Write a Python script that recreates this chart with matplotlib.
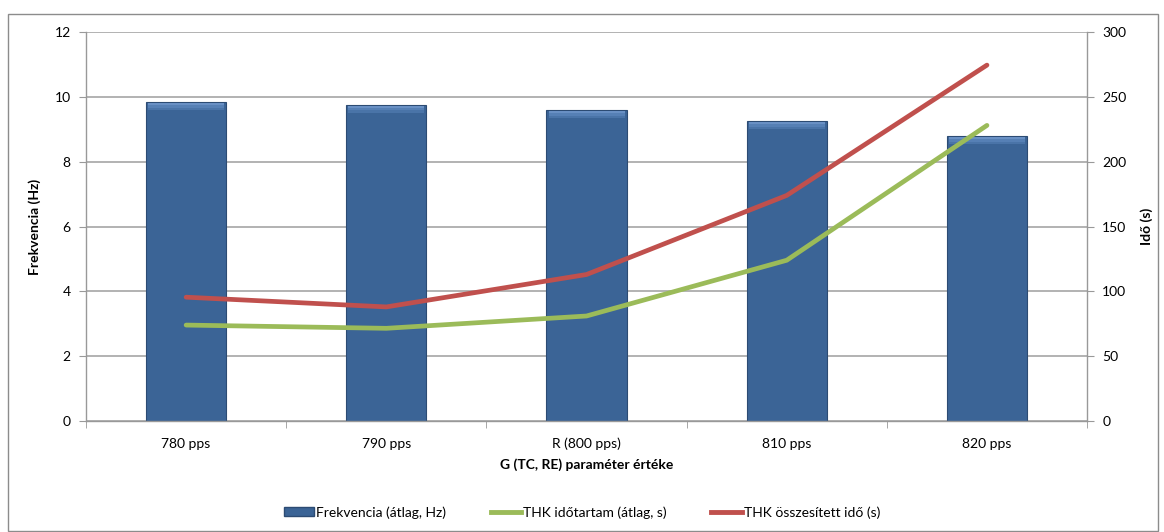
import matplotlib.pyplot as plt
from matplotlib.patches import Rectangle
from matplotlib.lines import Line2D
import numpy as np

plt.rcParams['font.family'] = ['Lato', 'DejaVu Sans']

kategoriak = ['780 pps', '790 pps', 'R (800 pps)', '810 pps', '820 pps']
frekvencia = [9.84, 9.75, 9.59, 9.25, 8.79]
thk_idotartam = [74, 71.5, 81, 124, 228]
thk_osszesitett = [95.5, 88, 113, 174, 274.5]

kek = '#3B6496'
zold = '#9BBB59'
piros = '#C0504D'
szurke = '#999999'

fig = plt.figure(figsize=(11.64, 5.32), dpi=100)
ax = fig.add_axes([0.0739, 0.2086, 0.86, 0.7312])
ax2 = ax.twinx()

x = np.arange(len(kategoriak))

# oszlopok, enyhe keret es vilagosabb, atmenetes teteje
ax.bar(x, frekvencia, width=0.4, color=kek, edgecolor='#2C4B73', linewidth=0.8, zorder=2)
savok = [('#4A74A8', 0.22), ('#5680B5', 0.15), ('#6990C4', 0.08)]
for szin, m in savok:
    ax.bar(x, [m] * len(x), bottom=[f - m - 0.02 for f in frekvencia], width=0.38,
           color=szin, linewidth=0, zorder=3)

ax.set_ylim(0, 12)
ax.set_yticks(range(0, 13, 2))
ax.set_xlim(-0.5, 4.5)
ax.set_xticks(x)
ax.set_xticklabels(kategoriak, fontsize=10)
ax.set_xticks(np.arange(-0.5, 5, 1), minor=True)
ax.tick_params(axis='x', which='major', length=0, pad=12)
ax.tick_params(axis='x', which='minor', length=5, color=szurke, direction='out')
ax.tick_params(axis='y', length=5, color=szurke, direction='out', labelsize=10, pad=6)
ax.yaxis.grid(True, color='#A6A6A6', linewidth=1.2, zorder=0)
ax.set_axisbelow(True)

ax2.plot(x, thk_idotartam, color=zold, linewidth=3.4, solid_capstyle='round', zorder=4)
ax2.plot(x, thk_osszesitett, color=piros, linewidth=3.4, solid_capstyle='round', zorder=4)
ax2.set_ylim(0, 300)
ax2.set_yticks(range(0, 301, 50))
ax2.tick_params(axis='y', length=5, color=szurke, direction='out', labelsize=10, pad=6)

for a in (ax, ax2):
    a.spines['top'].set_visible(False)
    for s in ('left', 'right', 'bottom'):
        a.spines[s].set_color(szurke)
        a.spines[s].set_linewidth(1.0)
ax.spines['right'].set_visible(False)
ax2.spines['left'].set_visible(False)
ax2.spines['bottom'].set_visible(False)

ax.set_ylabel('Frekvencia (Hz)', fontsize=10, fontweight='bold', labelpad=10)
ax2.set_ylabel('Idő (s)', fontsize=10, fontweight='bold', labelpad=10)
ax.set_xlabel('G (TC, RE) paraméter értéke', fontsize=10, fontweight='bold', labelpad=6)

fogantyuk = [
    Rectangle((0, 0), 1, 1, facecolor=kek, edgecolor='#2C4B73'),
    Line2D([0], [0], color=zold, linewidth=3.5),
    Line2D([0], [0], color=piros, linewidth=3.5),
]
feliratok = ['Frekvencia (átlag, Hz)', 'THK időtartam (átlag, s)', 'THK összesített idő (s)']
fig.legend(fogantyuk, feliratok, loc='center', bbox_to_anchor=(0.5, 0.037), ncol=3,
           frameon=False, fontsize=10, handlelength=2.2, handleheight=0.6,
           handletextpad=0.15, columnspacing=3.2)

# kulso keret
fig.patches.append(Rectangle((8 / 1164, 0.002), 1150 / 1164, 1 - 14 / 532 - 0.002,
                             transform=fig.transFigure, fill=False,
                             edgecolor='#8C8C8C', linewidth=1.0))

fig.savefig('out.png', dpi=100)
